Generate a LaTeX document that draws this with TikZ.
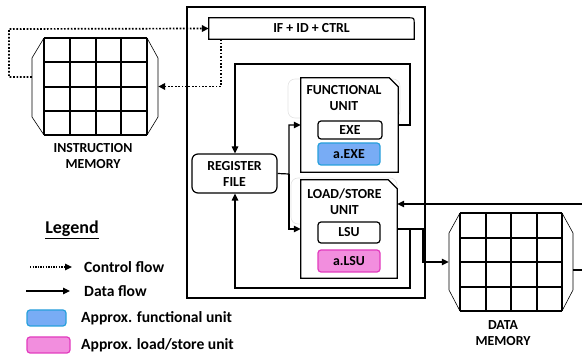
\documentclass[tikz,border=0pt]{standalone}
\usepackage{fontspec}
\setmainfont{Carlito}
\usetikzlibrary{arrows.meta}
\definecolor{ablue}{RGB}{120,172,245}
\definecolor{abluedge}{RGB}{40,160,220}
\definecolor{apink}{RGB}{242,142,222}
\definecolor{apinkedge}{RGB}{226,60,190}
\begin{document}
\begin{tikzpicture}[x=1pt,y=-1pt,
  txt/.style={font=\fontsize{13.8}{16}\selectfont\bfseries, align=center, inner sep=0pt},
  legtxt/.style={font=\fontsize{15.6}{17}\selectfont\bfseries, anchor=west, inner sep=0pt},
  blk/.style={draw=black, line width=1.2pt},
  tip/.style={-{Triangle[length=7pt,width=6.5pt]}},
  data/.style={line width=1.2pt, tip},
  ctrl/.style={line width=1.7pt, dash pattern=on 1.7pt off 1.7pt, tip},
  inbox/.style={draw=black, line width=1.2pt, rounded corners=3pt, fill=white, inner sep=0pt, font=\fontsize{13.8}{16}\selectfont\bfseries},
  faint/.style={draw=gray!22, line width=0.6pt, rounded corners=7pt},
  memgrid/.style={line width=1.8pt},
  memside/.style={line width=0.6pt}
]
\useasboundingbox (0,0) rectangle (582,358);

% ---- main processor box
\draw[blk] (187,7) rectangle (425,298);

% ---- instruction memory
\node[minimum width=126pt, minimum height=97pt, inner sep=0pt] (im) at (95,86.5) {};
\draw[memside] (44,38) -- (32,58) -- (32,117) -- (44,135);
\draw[memside] (147,38) -- (158,58) -- (158,117) -- (147,135);
\foreach \x in {44,70,96,121,147} \draw[memgrid] (\x,38) -- (\x,135);
\foreach \y in {38,62,87,111,135} \draw[memgrid] (44,\y) -- (147,\y);
\node[txt] (imlbl) at (93,156) {INSTRUCTION\\MEMORY};

% ---- data memory
\node[minimum width=124pt, minimum height=98pt, inner sep=0pt] (dm) at (511,262) {};
\draw[memside] (460,213) -- (449,233) -- (449,290) -- (460,311);
\draw[memside] (562,213) -- (573,233) -- (573,290) -- (562,311);
\foreach \x in {460,486,511,537,562} \draw[memgrid] (\x,213) -- (\x,311);
\foreach \y in {213,238,262,287,311} \draw[memgrid] (460,\y) -- (562,\y);
\node[txt] (dmlbl) at (503,333) {DATA\\MEMORY};

% ---- IF + ID + CTRL
\node[txt, minimum width=205pt, minimum height=21pt] (if) at (311.5,28.5) {IF + ID + CTRL};
\draw[blk] (if.north west) -- ([xshift=-6pt]if.north east) .. controls (if.north east) .. ([yshift=-6pt]if.north east) -- (if.south east) -- (if.south west) -- cycle;

% ---- register file
\node[txt, draw, line width=1.2pt, rounded corners=6pt, minimum width=85pt, minimum height=39pt] (rf) at (234.5,173.5) {REGISTER\\FILE};

% ---- functional unit
\draw[faint] (288,79) rectangle (400,118);
\node[minimum width=97pt, minimum height=94pt, inner sep=0pt] (fu) at (349.5,125) {};
\draw[blk, fill=white] (fu.south west) -- (fu.north west) -- ([xshift=-9pt]fu.north east) -- ([yshift=-9pt]fu.north east) -- (fu.south east) -- cycle;
\node[txt] (fulbl) at (344,98.5) {FUNCTIONAL\\UNIT};
\node[inbox, minimum width=64pt, minimum height=18pt] (exe) at (350,130) {EXE};
\node[inbox, draw=abluedge, fill=ablue, minimum width=62pt, minimum height=22pt] (aexe) at (349,154) {a.EXE};

% ---- load/store unit
\draw[faint] (291,178) rectangle (397,224);
\node[minimum width=96pt, minimum height=98pt, inner sep=0pt] (lsu) at (349,229) {};
\draw[blk, fill=white] (lsu.south west) -- (lsu.north west) -- ([xshift=-9pt]lsu.north east) -- ([yshift=-9pt]lsu.north east) -- (lsu.south east) -- cycle;
\node[txt] (lsulbl) at (344.5,202) {LOAD/STORE\\UNIT};
\node[inbox, minimum width=62pt, minimum height=21pt] (lsuin) at (349,232.5) {LSU};
\node[inbox, draw=apinkedge, fill=apink, minimum width=62pt, minimum height=22pt] (alsu) at (349,261) {a.LSU};

% ---- control flow
\draw[ctrl] ([yshift=9.5pt]im.west) -- (9,77) -- (9,29) -- (if.west);
\draw[ctrl] (if.south -| 221,0) -- (221,86.5) -- (im.east);

% ---- data flow
\draw[data] (fu.east) -- (410,125) -- (410,64) -- (235,64) -- (rf.north -| 235,0);
\draw[data] (rf.east) -- (289,174) -- (289,125) -- (fu.west);
\draw[data] (289,174) -- (289,229) -- (lsu.west);
\draw[data] (lsu.east) -- (410,229) -- (410,288) -- (235,288) -- (rf.south -| 235,0);
\draw[data] (410,229) -- (423,229) -- (423,262) -- (dm.west);
\coordinate (inR) at (582,204);
\coordinate (outR) at (582,270);
\draw[data] (inR) -- (lsu.north east |- inR);
\draw[line width=1.2pt] ([yshift=-8pt]dm.east) -- (outR);

% ---- legend
\node[font=\fontsize{18}{20}\selectfont\bfseries, inner sep=0pt] (leg) at (72,230) {\underline{Legend}};
\coordinate (c1) at (30,267); \coordinate (c2) at (72,267);
\draw[ctrl, line width=1.3pt, dash pattern=on 1.3pt off 1.3pt] (c1) -- (c2);
\node[legtxt] (lc) at (84,267) {Control flow};
\coordinate (d1) at (26,291); \coordinate (d2) at (70,291);
\draw[data] (d1) -- (d2);
\node[legtxt] (ld) at (84,291) {Data flow};
\node[draw=abluedge, fill=ablue, line width=1.2pt, rounded corners=3pt, minimum width=39pt, minimum height=16pt, inner sep=0pt] (lb) at (46.5,318) {};
\node[legtxt] (lbt) at (81,318) {Approx. functional unit};
\node[draw=apinkedge, fill=apink, line width=1.2pt, rounded corners=3pt, minimum width=43pt, minimum height=16pt, inner sep=0pt] (lp) at (48.5,345) {};
\node[legtxt] (lpt) at (81,345) {Approx. load/store unit};
\end{tikzpicture}
\end{document}
